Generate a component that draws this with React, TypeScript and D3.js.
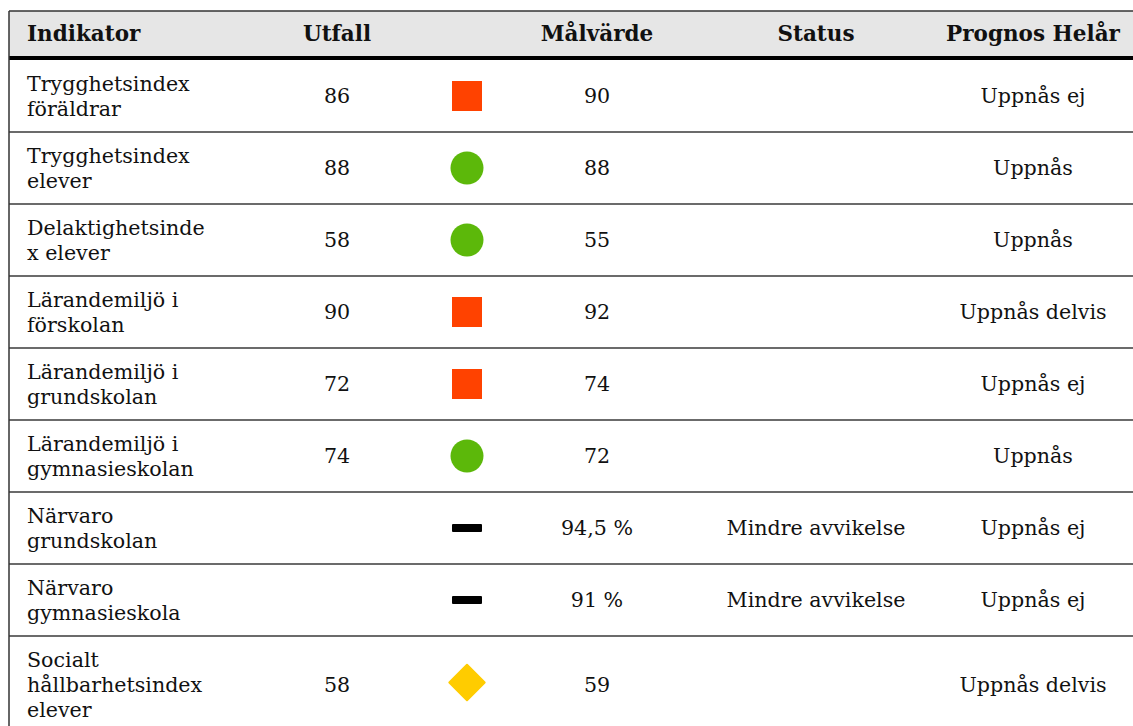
import React from "react";
import * as d3 from "d3";

const indicators: string[] = [
  "Trygghetsindex\nföräldrar",
  "Trygghetsindex\nelever",
  "Delaktighetsinde\nx elever",
  "Lärandemiljö i\nförskolan",
  "Lärandemiljö i\ngrundskolan",
  "Lärandemiljö i\ngymnasieskolan",
  "Närvaro\ngrundskolan",
  "Närvaro\ngymnasieskola",
  "Socialt\nhållbarhetsindex\nelever",
];
const utfall: string[] = ["86", "88", "58", "90", "72", "74", "", "", "58"];
const symbols: string[] = ["red", "green", "green", "red", "red", "green", "dash", "dash", "yellow"];
const malvarde: string[] = ["90", "88", "55", "92", "74", "72", "94,5 %", "91 %", "59"];
const statusText: string[] = ["", "", "", "", "", "", "Mindre avvikelse", "Mindre avvikelse", ""];
const prognos: string[] = [
  "Uppnås ej", "Uppnås", "Uppnås", "Uppnås delvis", "Uppnås ej",
  "Uppnås", "Uppnås ej", "Uppnås ej", "Uppnås delvis",
];
const headers: string[] = ["Indikator", "Utfall", "", "Målvärde", "Status", "Prognos Helår"];
const columnKeys: string[] = ["ind", "utfall", "sym", "mal", "status", "prognos"];

const W = 1133;
const H = 726;
const FONT = "'DejaVu Serif', Georgia, serif";

export default function App() {
  const left = 9;
  const top = 11;
  const headerH = 45;
  const thick = 4;
  const lineH = 25;
  const pad = 22;

  const xCol = d3.scaleOrdinal<string, number>().domain(columnKeys).range([27, 337, 467, 597, 816, 1033]);

  const heights = indicators.map((s) => s.split("\n").length * lineH + pad);
  const starts = [0, ...Array.from(d3.cumsum(heights))].map((v) => v + top + headerH + thick);

  const colorMap: Record<string, string> = { red: "#ff4200", green: "#5cb80a", yellow: "#ffcc00" };

  const symbol = (t: string, cx: number, cy: number) => {
    if (t === "red") return <rect x={cx - 15} y={cy - 15} width={30} height={30} fill={colorMap.red} />;
    if (t === "green") return <circle cx={cx} cy={cy} r={16.5} fill={colorMap.green} />;
    if (t === "dash") return <rect x={cx - 15} y={cy - 4} width={30} height={8} rx={1} fill="#000" />;
    if (t === "yellow") {
      const p = d3.symbol().type(d3.symbolSquare).size(25 * 25)();
      return <path d={p || ""} transform={`translate(${cx},${cy - 2}) rotate(45)`} fill={colorMap.yellow} stroke={colorMap.yellow} strokeWidth={2} strokeLinejoin="round" />;
    }
    return null;
  };

  const bodySize = 20.6;

  return (
    <svg width={W} height={H} style={{ position: "fixed", left: 0, top: 0, background: "#fff" }} fontFamily={FONT}>
      <rect x={0} y={0} width={W} height={H} fill="#fff" />
      <rect x={left} y={top} width={W} height={headerH} fill="#e6e6e6" />
      <line x1={left} x2={W + 10} y1={top} y2={top} stroke="#333" strokeWidth={1.5} />
      <rect x={left} y={top + headerH} width={W} height={thick} fill="#000" />
      {headers.map((h, i) => (
        <text
          key={"h" + i}
          x={xCol(columnKeys[i])}
          y={top + 30}
          fontSize={21.5}
          fontWeight="bold"
          fill="#111"
          textAnchor={i === 0 ? "start" : "middle"}
        >
          {h}
        </text>
      ))}
      {indicators.map((name, i) => {
        const y0 = starts[i];
        const y1 = starts[i + 1];
        const cy = (y0 + y1) / 2;
        const lines = name.split("\n");
        const blockTop = cy - (lines.length * lineH) / 2;
        return (
          <g key={"r" + i}>
            {i < indicators.length - 1 && (
              <line x1={left} x2={W + 10} y1={y1} y2={y1} stroke="#3a3a3a" strokeWidth={1.5} />
            )}
            <text x={xCol("ind")} fontSize={bodySize} fill="#111">
              {lines.map((l, j) => (
                <tspan key={j} x={xCol("ind")} y={blockTop + 20 + j * lineH}>
                  {l}
                </tspan>
              ))}
            </text>
            <text x={xCol("utfall")} y={cy + 7} fontSize={bodySize} fill="#111" textAnchor="middle">{utfall[i]}</text>
            {symbol(symbols[i], xCol("sym"), cy)}
            <text x={xCol("mal")} y={cy + 7} fontSize={bodySize} fill="#111" textAnchor="middle">{malvarde[i]}</text>
            <text x={xCol("status")} y={cy + 7} fontSize={bodySize} fill="#111" textAnchor="middle">{statusText[i]}</text>
            <text x={xCol("prognos")} y={cy + 7} fontSize={bodySize} fill="#111" textAnchor="middle">{prognos[i]}</text>
          </g>
        );
      })}
      <line x1={left} x2={left} y1={top} y2={H + 10} stroke="#333" strokeWidth={1.5} />
    </svg>
  );
}
